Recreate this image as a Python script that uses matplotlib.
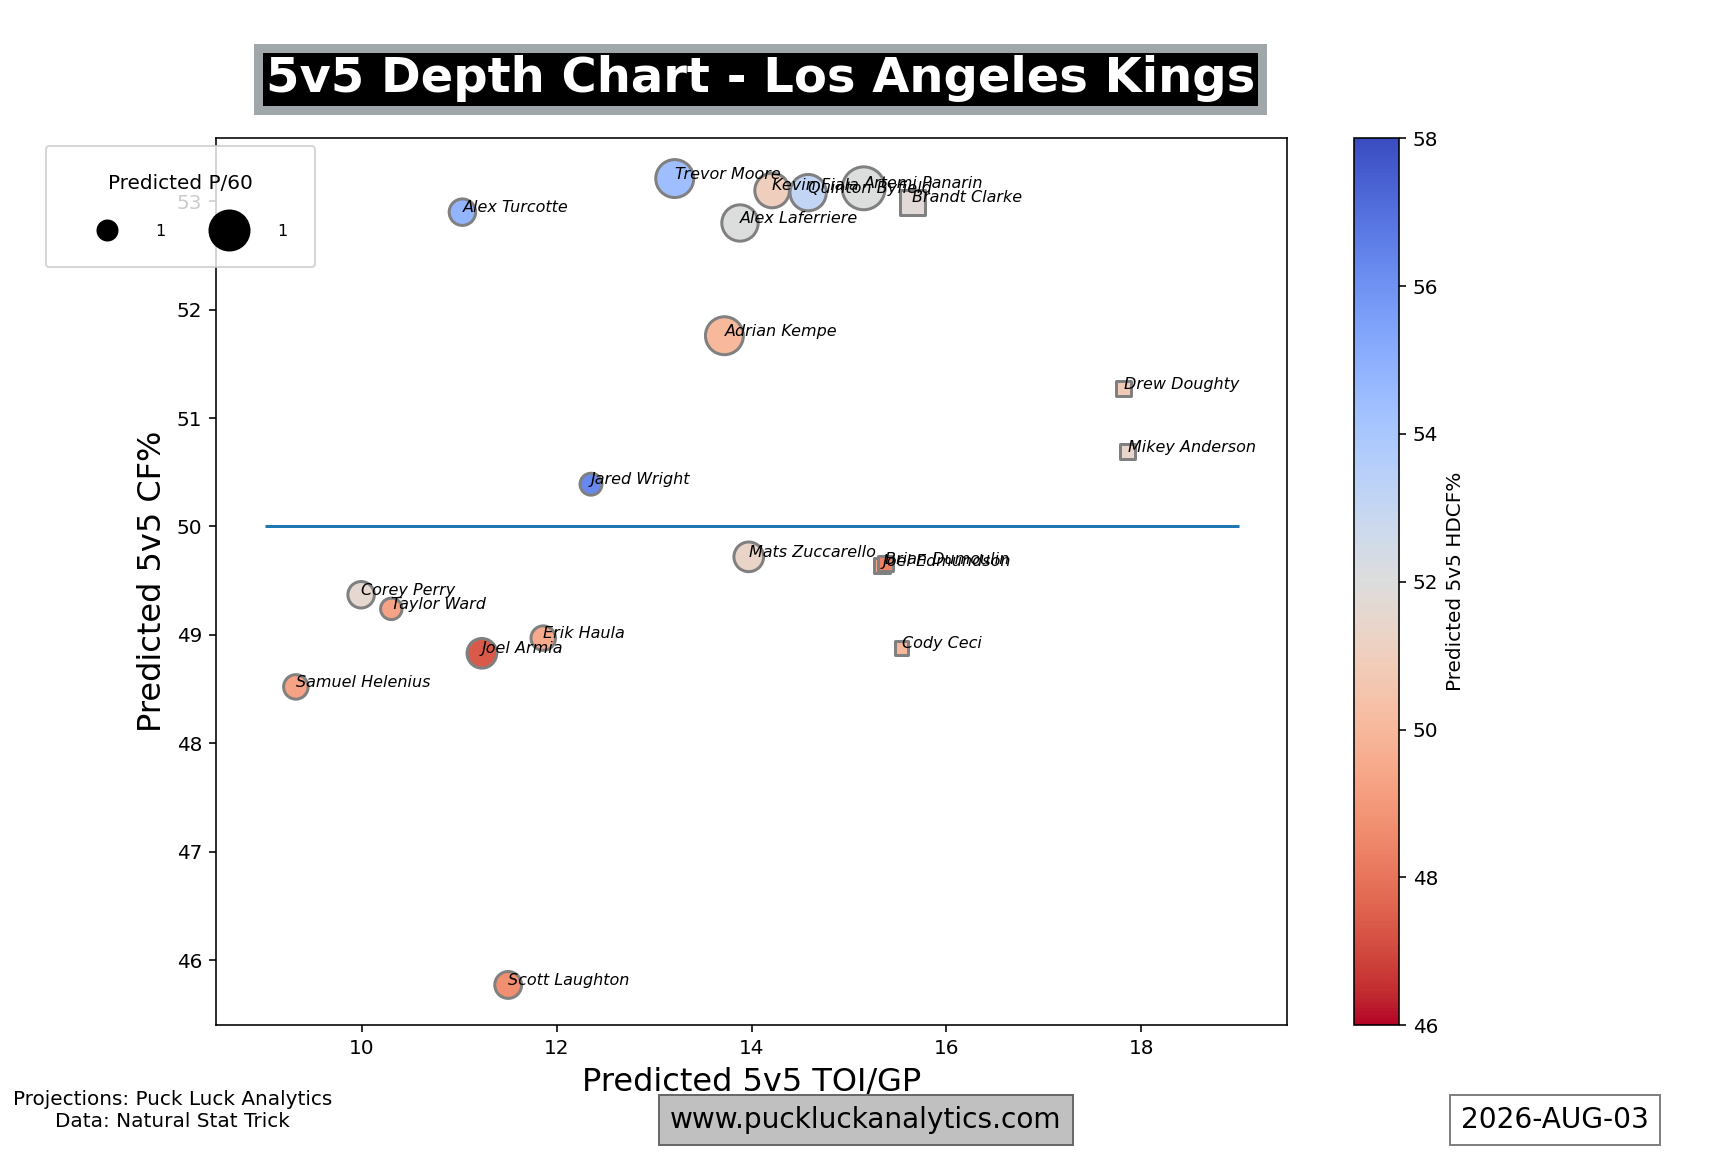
import matplotlib
matplotlib.use('Agg')
import matplotlib.pyplot as plt
from matplotlib.lines import Line2D

# player projections
forwards = ['Trevor Moore', 'Kevin Fiala', 'Quinton Byfield', 'Artemi Panarin',
            'Alex Laferriere', 'Alex Turcotte', 'Adrian Kempe', 'Jared Wright',
            'Mats Zuccarello', 'Corey Perry', 'Taylor Ward', 'Erik Haula',
            'Joel Armia', 'Samuel Helenius', 'Scott Laughton']
fwd_toi = [13.21, 14.21, 14.58, 15.15, 13.88, 11.03, 13.72, 12.35,
           13.97, 9.99, 10.30, 11.86, 11.23, 9.32, 11.50]
fwd_cf = [53.21, 53.10, 53.08, 53.12, 52.80, 52.90, 51.76, 50.39,
          49.72, 49.37, 49.24, 48.97, 48.83, 48.52, 45.77]
fwd_hdcf = [54.4, 51.0, 53.1, 52.0, 52.0, 54.8, 50.0, 56.3,
            51.3, 51.6, 49.3, 49.5, 47.4, 49.3, 48.7]
fwd_size = [360, 300, 330, 460, 330, 175, 360, 120,
            220, 175, 115, 150, 220, 150, 180]

defense = ['Brandt Clarke', 'Drew Doughty', 'Mikey Anderson', 'Joel Edmundson',
           'Brian Dumoulin', 'Cody Ceci']
def_toi = [15.65, 17.82, 17.86, 15.34, 15.37, 15.54]
def_cf = [52.99, 51.27, 50.69, 49.64, 49.655, 48.88]
def_hdcf = [51.8, 50.8, 51.4, 49.4, 48.3, 50.0]
def_size = [165, 55, 60, 60, 55, 45]

fig, ax = plt.subplots(figsize=(12, 8), dpi=144)

sc = ax.scatter(fwd_toi, fwd_cf, c=fwd_hdcf, s=fwd_size, cmap='coolwarm_r',
                vmin=46, vmax=58, edgecolors='gray', linewidths=1.5, marker='o')
ax.scatter(def_toi, def_cf, c=def_hdcf, s=def_size, cmap='coolwarm_r',
           vmin=46, vmax=58, edgecolors='gray', linewidths=1.5, marker='s')

for name, x, y in zip(forwards + defense, fwd_toi + def_toi, fwd_cf + def_cf):
    ax.text(x, y, name, fontsize=8, style='italic')

ax.hlines(50, 9, 19, color='C0', linewidth=1.5)

ax.set_xlabel('Predicted 5v5 TOI/GP', fontsize=16)
ax.set_ylabel('Predicted 5v5 CF%', fontsize=16)

cbar = plt.colorbar(sc, ax=ax)
cbar.set_label('Predicted 5v5 HDCF%')

ax.text(0.508, 1.067, '5v5 Depth Chart - Los Angeles Kings', transform=ax.transAxes,
        ha='center', va='center', fontsize=24, fontweight='bold', color='white',
        bbox=dict(boxstyle='square,pad=0.15', facecolor='black',
                  edgecolor='#a0a7ab', linewidth=4.5))

handles = [Line2D([], [], marker='o', linestyle='', color='black', markersize=10),
           Line2D([], [], marker='o', linestyle='', color='black', markersize=20)]
ax.legend(handles, ['1', '1'], title='Predicted P/60', ncol=2, fontsize=8,
          title_fontsize=10, loc='upper left', bbox_to_anchor=(0.0265, 0.873),
          bbox_transform=fig.transFigure, borderaxespad=0, borderpad=1.75,
          handlelength=4.2, handletextpad=0.9, columnspacing=1.85,
          labelspacing=1.9)

fig.text(0.1, 0.036, 'Projections: Puck Luck Analytics\nData: Natural Stat Trick',
         ha='center', va='center', fontsize=10)
fig.text(0.501, 0.028, 'www.puckluckanalytics.com', ha='center', va='center',
         fontsize=14, bbox=dict(boxstyle='square,pad=0.4', facecolor='silver',
                                edgecolor='dimgray'))
fig.text(0.90, 0.028, '2026-AUG-03', ha='center', va='center', fontsize=14,
         bbox=dict(boxstyle='square,pad=0.4', facecolor='white', edgecolor='gray'))

fig.savefig('out.png', dpi=144)
